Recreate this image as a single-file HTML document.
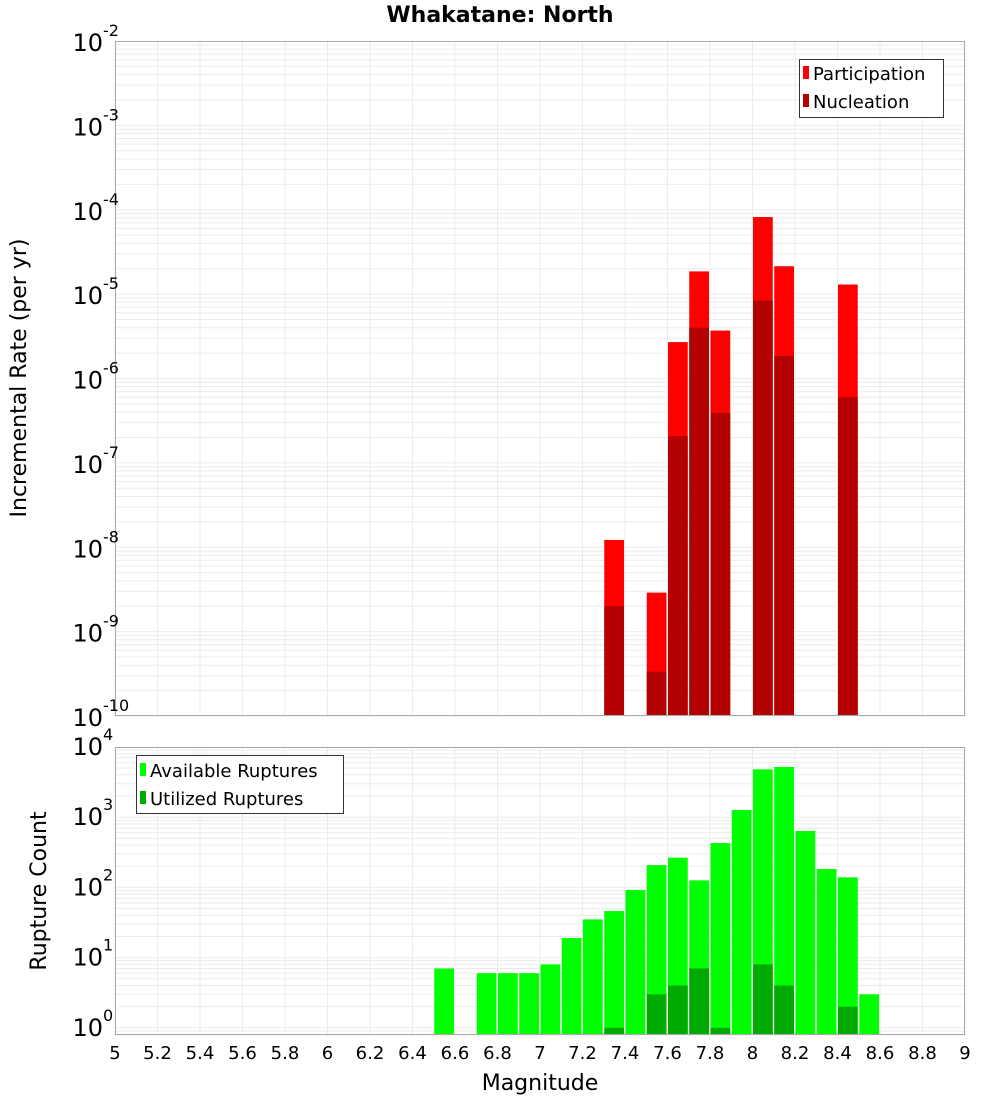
<!DOCTYPE html>
<html><head><meta charset="utf-8"><style>
html,body{margin:0;padding:0;background:#fff}
svg{display:block;font-family:"DejaVu Sans","Liberation Sans",sans-serif}
</style></head><body>
<svg id="chart" width="1000" height="1100" viewBox="0 0 1000 1100" xmlns="http://www.w3.org/2000/svg">
<text x="500" y="22" text-anchor="middle" font-size="22" font-weight="bold">Whakatane: North</text>
<text transform="translate(26,378) rotate(-90)" text-anchor="middle" font-size="22">Incremental Rate (per yr)</text>
<text transform="translate(46,891) rotate(-90)" text-anchor="middle" font-size="22">Rupture Count</text>
<text x="540" y="1090" text-anchor="middle" font-size="22">Magnitude</text>
<g id="topplot"></g>
<g id="botplot"></g>
<g id="xt"></g>
<g>
<rect x="799.5" y="59.5" width="144" height="58" fill="#fff" stroke="#333"/>
<rect x="803" y="66" width="6" height="13" fill="#ff0000"/>
<text x="813" y="80" font-size="18">Participation</text>
<rect x="803" y="94" width="6" height="13" fill="#b30000"/>
<text x="813" y="108" font-size="18">Nucleation</text>
</g>
<g>
<rect x="136.5" y="755.5" width="207" height="58" fill="#fff" stroke="#333"/>
<rect x="140" y="763" width="6" height="13" fill="#00ff00"/>
<text x="150" y="777" font-size="18">Available Ruptures</text>
<rect x="140" y="791" width="6" height="13" fill="#00aa00"/>
<text x="150" y="805" font-size="18">Utilized Ruptures</text>
</g>
</svg>
<script>
const rateBins=[7.3,7.5,7.6,7.7,7.8,8.0,8.1,8.4];
const participation=[1.22e-8,2.9e-9,2.7e-6,1.86e-5,3.7e-6,8.2e-5,2.14e-5,1.3e-5];
const nucleation=[2.0e-9,3.35e-10,2.07e-7,4.0e-6,3.9e-7,8.4e-6,1.86e-6,6.0e-7];
const countBins=[6.5,6.7,6.8,6.9,7.0,7.1,7.2,7.3,7.4,7.5,7.6,7.7,7.8,7.9,8.0,8.1,8.2,8.3,8.4,8.5];
const available=[7,6,6,6,8,19,35,46,92,208,265,126,428,1267,4810,5190,636,183,139,3];
const utilized=[0,0,0,0,0,0,0,1,0,3,4,7,1,0,8,4,0,0,2,0];
const xTicks=["5","5.2","5.4","5.6","5.8","6","6.2","6.4","6.6","6.8","7","7.2","7.4","7.6","7.8","8","8.2","8.4","8.6","8.8","9"];
const topExp=[-2,-3,-4,-5,-6,-7,-8,-9,-10];
const botExp=[4,3,2,1,0];
const NS="http://www.w3.org/2000/svg";
const X0=115,X1=965,XMIN=5,XMAX=9;
const xs=v=>X0+(v-XMIN)/(XMAX-XMIN)*(X1-X0);
const T0=41,T1=716,TMAXL=-2,TMINL=-10;
const yTop=v=>T0+(TMAXL-Math.log10(v))/(TMAXL-TMINL)*(T1-T0);
const B0=747,B1=1035,BD=70.2;
const yBot=v=>Math.min(B1,B0+(4-Math.log10(v))*BD);
function mk(p,tag,at){const e=document.createElementNS(NS,tag);for(const k in at)e.setAttribute(k,at[k]);p.appendChild(e);return e;}
function grid(g,y0,y1,yf,lmin,lmax){
  mk(g,'rect',{x:X0,y:y0,width:X1-X0,height:y1-y0,fill:'#fff'});
  for(let l=Math.floor(lmin);l<=lmax;l++)for(let m=1;m<10;m++){const yy=yf(m*Math.pow(10,l));if(yy>=y0&&yy<=y1){const ln=mk(g,'line',{x1:X0,x2:X1,y1:yy,y2:yy,stroke:'#ebebeb','stroke-width':1});}}
  xTicks.forEach(t=>{const xx=xs(+t);const ln=mk(g,'line',{x1:xx,x2:xx,y1:y0,y2:y1,stroke:'#ebebeb'});});
}
function bar(g,b,v,yf,y1,col,name){const yy=yf(v);const r=mk(g,'rect',{x:xs(b)+0.5,y:yy,width:xs(b+0.1)-xs(b)-1.5,height:y1-yy,fill:col});}
function ylab(g,y,e){const t=mk(g,'text',{x:103,y:y+10,'text-anchor':'end','font-size':24});t.textContent='10';const s=mk(g,'text',{x:103,y:y-5,'font-size':16});s.textContent=String(e);}
const topG=document.getElementById('topplot');
grid(topG,T0,T1,yTop,-10,-3);
rateBins.forEach((b,i)=>bar(topG,b,participation[i],yTop,T1,'#ff0000','participation-bar'));
rateBins.forEach((b,i)=>bar(topG,b,nucleation[i],yTop,T1,'#b30000','nucleation-bar'));
mk(topG,'rect',{x:X0+0.5,y:T0+0.5,width:X1-X0-1,height:T1-T0-1,fill:'none',stroke:'#aaa'});
topExp.forEach(e=>ylab(topG,yTop(Math.pow(10,e)),e));
const botG=document.getElementById('botplot');
grid(botG,B0,B1,yBot,-1,3);
countBins.forEach((b,i)=>{if(available[i]>0)bar(botG,b,available[i],yBot,B1,'#00ff00','available-bar');});
countBins.forEach((b,i)=>{if(utilized[i]>0)bar(botG,b,utilized[i],yBot,B1,'#00aa00','utilized-bar');});
mk(botG,'rect',{x:X0+0.5,y:B0+0.5,width:X1-X0-1,height:B1-B0-1,fill:'none',stroke:'#aaa'});
botExp.forEach(e=>ylab(botG,B0+(4-e)*BD-2,e));
const xtG=document.getElementById('xt');
xTicks.forEach(t=>{const e=mk(xtG,'text',{x:xs(+t),y:1059,'text-anchor':'middle','font-size':18});e.textContent=t;});
</script>
</body></html>
